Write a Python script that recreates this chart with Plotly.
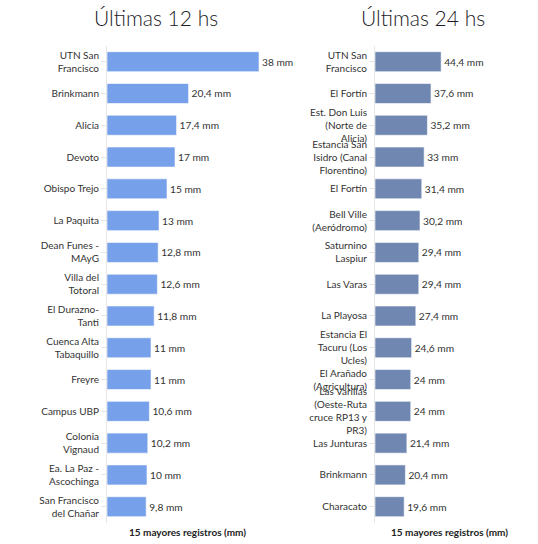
import plotly.graph_objects as go

# ---- data ----
labels_12 = ["UTN San<br>Francisco", "Brinkmann", "Alicia", "Devoto", "Obispo Trejo",
             "La Paquita", "Dean Funes -<br>MAyG", "Villa del<br>Totoral", "El Durazno-<br>Tanti",
             "Cuenca Alta<br>Tabaquillo", "Freyre", "Campus UBP", "Colonia<br>Vignaud",
             "Ea. La Paz -<br>Ascochinga", "San Francisco<br>del Chañar"]
values_12 = [38, 20.4, 17.4, 17, 15, 13, 12.8, 12.6, 11.8, 11, 11, 10.6, 10.2, 10, 9.8]

labels_24 = ["UTN San<br>Francisco", "El Fortín", "Est. Don Luis<br>(Norte de<br>Alicia)",
             "Estancia San<br>Isidro (Canal<br>Florentino)", "El Fortín", "Bell Ville<br>(Aeródromo)",
             "Saturnino<br>Laspiur", "Las Varas", "La Playosa", "Estancia El<br>Tacuru (Los<br>Ucles)",
             "El Arañado<br>(Agricultura)", "Las Varillas<br>(Oeste-Ruta<br>cruce RP13 y<br>PR3)",
             "Las Junturas", "Brinkmann", "Characato"]
values_24 = [44.4, 37.6, 35.2, 33, 31.4, 30.2, 29.4, 29.4, 27.4, 24.6, 24, 24, 21.4, 20.4, 19.6]

titles = ["Últimas 12 hs", "Últimas 24 hs"]
axis_title = "15 mayores registros (mm)"
colors = ["#77A0EA", "#6F87B1"]
xmax = [40, 100]


def fmt(v):
    s = ("%g" % v).replace(".", ",")
    return s + " mm"


W, H = 538, 544
FONT = "Lato, 'Open Sans', sans-serif"

fig = go.Figure()

xdomains = [[107 / W, 267 / W], [375 / W, 524 / W]]
ydomain = [1 - 522.6 / H, 1 - 45.8 / H]

for i, (labs, vals) in enumerate([(labels_12, values_12), (labels_24, values_24)]):
    idx = list(range(len(vals)))
    xa = "x" if i == 0 else "x2"
    ya = "y" if i == 0 else "y2"
    fig.add_trace(go.Bar(
        x=vals, y=idx, orientation="h",
        marker=dict(color=colors[i], line=dict(color="rgba(255,255,255,0.6)", width=1)),
        text=[fmt(v) for v in vals], textposition="outside", cliponaxis=False,
        textfont=dict(family=FONT, size=10.2, color="#333333"),
        width=0.63, xaxis=xa, yaxis=ya, hoverinfo="skip", showlegend=False,
    ))
    axsuffix = "" if i == 0 else "2"
    fig.update_layout(**{
        "xaxis" + axsuffix: dict(
            domain=xdomains[i], range=[0, xmax[i]], showgrid=False, zeroline=False,
            showticklabels=False, showline=False, anchor=ya, automargin=False,
        ),
        "yaxis" + axsuffix: dict(
            domain=ydomain, range=[len(vals) - 0.5, -0.5], anchor=xa, automargin=False,
            tickvals=idx, ticktext=labs, showgrid=False, zeroline=False,
            showline=True, linecolor="#E6E6E6", linewidth=1,
            ticks="outside", ticklen=5, tickcolor="#E6E6E6",
            tickfont=dict(family=FONT, size=10, color="#333333"),
        ),
    })
    fig.add_annotation(
        text=titles[i], xref="paper", yref="paper",
        x=[155.5 / W, 422.5 / W][i], y=1 - 3 / H, xanchor="center", yanchor="top",
        showarrow=False, font=dict(family=FONT, size=21, color="#1c1c28", weight=300),
    )
    fig.add_annotation(
        text="<b>" + axis_title + "</b>", xref="paper", yref="paper",
        x=sum(xdomains[i]) / 2, y=1 - 532 / H, xanchor="center", yanchor="middle",
        showarrow=False, font=dict(family=FONT, size=10, color="#222222"),
    )

fig.update_layout(
    width=W, height=H, margin=dict(l=0, r=0, t=0, b=0),
    paper_bgcolor="white", plot_bgcolor="white",
    font=dict(family=FONT),
)

fig.write_html("out.html", config={"displayModeBar": False},
               post_script="document.body.style.margin='0';document.body.style.overflow='hidden';")
